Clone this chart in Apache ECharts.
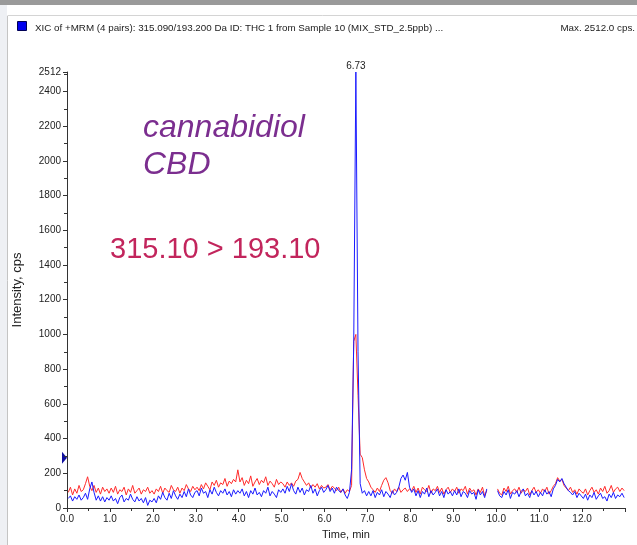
<!DOCTYPE html>
<html>
<head>
<meta charset="utf-8">
<script src="https://cdn.jsdelivr.net/npm/echarts@6/dist/echarts.min.js"></script>
<style>
html, body { margin: 0; padding: 0; background: #fff; }
#main { width: 637px; height: 545px; }
</style>
</head>
<body>
<div id="main"></div>
<script>
// sampling of the trace: first point and step, minutes
var t0 = 0.03;
var dt = 0.05;

// XIC 315.090/193.200 (blue), one value per step
var blueVals = [
	55, 70, 40, 65, 50, 75, 45, 60, 85, 50, 110, 150, 90, 45, 70, 40, 65, 35, 60, 45,
	70, 40, 55, 25, 60, 75, 35, 55, 45, 80, 50, 35, 65, 40, 55, 30, 60, 15, 45, 35,
	55, 30, 70, 50, 90, 60, 45, 85, 55, 100, 70, 50, 80, 60, 95, 65, 110, 75, 60, 90,
	100, 70, 115, 85, 95, 60, 105, 80, 120, 90, 70, 100, 85, 110, 75, 95, 65, 105, 80, 100,
	85, 110, 70, 95, 60, 100, 80, 115, 75, 90, 65, 100, 85, 120, 70, 95, 80, 60, 105, 90,
	110, 85, 125, 95, 140, 100, 80, 120, 90, 115, 75, 105, 95, 130, 85, 110, 70, 100, 120, 90,
	105, 130, 95, 115, 85, 120, 100, 90, 110, 75, 55, 90, 220, 950, 2512, 900, 140, 85, 100, 70,
	95, 70, 100, 60, 90, 75, 105, 65, 95, 80, 60, 100, 75, 90, 120, 170, 190, 160, 205, 120,
	90, 110, 70, 100, 60, 95, 80, 115, 65, 100, 75, 90, 110, 70, 95, 60, 105, 80, 95, 70,
	100, 75, 110, 65, 95, 85, 60, 100, 80, 90, 50, 105, 75, 95, 60, 110, null, null, null, null,
	100, 70, 60, 95, 75, 105, 55, 90, 80, 100, 65, 95, 110, 70, 85, 60, 100, 75, 95, 65,
	90, 70, 105, 80, 95, 65, 110, 130, 165, 150, 170, 140, 120, 100, 90, 75, 95, 60, 85, 70,
	55, 80, 45, 75, 60, 90, 50, 70, 85, 55, 65, 40, 80, 60, 90, 55, 75, 65, 85, 60
];

// second transition (red)
var redVals = [
	90, 120, 75, 110, 85, 130, 95, 105, 140, 180, 125, 100, 130, 90, 115, 80, 120, 95, 110, 85,
	115, 90, 125, 80, 105, 95, 120, 75, 110, 90, 130, 85, 100, 115, 80, 105, 95, 120, 85, 100,
	80, 110, 95, 125, 85, 115, 100, 90, 130, 105, 95, 120, 85, 115, 100, 135, 110, 95, 125, 105,
	120, 100, 135, 110, 145, 125, 105, 150, 130, 160, 120, 145, 135, 170, 125, 155, 140, 165, 150, 220,
	150, 175, 130, 160, 140, 185, 125, 150, 170, 135, 160, 145, 180, 130, 155, 140, 120, 165, 135, 150,
	140, 120, 150, 130, 145, 125, 155, 165, 205, 170, 150, 130, 145, 115, 135, 120, 140, 110, 130, 115,
	120, 135, 105, 125, 115, 100, 120, 90, 110, 85, 105, 95, 130, 960, 1000, 650, 310, 290, 220, 170,
	150, 120, 105, 90, 115, 95, 130, 160, 175, 145, 100, 85, 110, 95, 120, 90, 105, 115, 95, 110,
	100, 125, 90, 115, 80, 120, 105, 95, 130, 85, 110, 100, 125, 90, 115, 80, 105, 120, 90, 110,
	95, 120, 85, 110, 100, 125, 80, 115, 95, 105, 75, 110, 90, 120, 70, 100, null, null, null, null,
	110, 85, 75, 115, 95, 125, 80, 100, 110, 90, 120, 85, 105, 95, 115, 75, 100, 120, 90, 105,
	85, 110, 95, 120, 80, 100, 125, 140, 175, 155, 165, 130, 115, 100, 120, 90, 105, 80, 110, 95,
	85, 110, 75, 100, 120, 90, 105, 80, 115, 95, 125, 85, 100, 130, 90, 110, 120, 95, 115, 100
];

var yMax = 2512;
var titleText = 'XIC of +MRM (4 pairs): 315.090/193.200 Da ID: THC 1 from Sample 10 (MIX_STD_2.5ppb) ...';
var maxText = 'Max. 2512.0 cps.';

function toPairs(vals) {
	var out = [];
	for (var i = 0; i < vals.length; i++) {
		var t = Math.round((t0 + i * dt) * 100) / 100;
		out.push([t, vals[i]]);
	}
	return out;
}

var blueData = toPairs(blueVals);
var redData = toPairs(redVals);

// apex of the blue trace for the retention time label
var apex = 0;
for (var i = 1; i < blueVals.length; i++) {
	if (blueVals[i] != null && blueVals[i] > blueVals[apex]) apex = i;
}

var myChart = echarts.init(document.getElementById('main'));

var option = {
	animation: false,
	grid: { left: 67, right: 12, top: 72, bottom: 35 },
	xAxis: {
		type: 'value',
		min: 0,
		max: 13,
		interval: 1,
		name: 'Time, min',
		nameLocation: 'middle',
		nameGap: 21,
		nameTextStyle: { fontFamily: 'Liberation Sans', fontSize: 11, color: '#222' },
		axisLine: { lineStyle: { color: '#333', width: 1 } },
		axisTick: { length: 4, lineStyle: { color: '#333' } },
		minorTick: { show: true, splitNumber: 2, length: 3, lineStyle: { color: '#333' } },
		splitLine: { show: false },
		axisLabel: {
			fontFamily: 'Liberation Sans', fontSize: 10, color: '#222', margin: 6,
			formatter: function (v) { return v >= 13 ? '' : v.toFixed(1); }
		}
	},
	yAxis: {
		type: 'value',
		min: 0,
		max: yMax,
		interval: 200,
		name: 'Intensity, cps',
		nameLocation: 'middle',
		nameGap: 43,
		nameTextStyle: { fontFamily: 'Liberation Sans', fontSize: 13, color: '#222' },
		axisLine: { show: true, lineStyle: { color: '#333', width: 1 } },
		axisTick: { show: true, length: 4, lineStyle: { color: '#333' } },
		minorTick: { show: true, splitNumber: 2, length: 3, lineStyle: { color: '#333' } },
		splitLine: { show: false },
		axisLabel: {
			fontFamily: 'Liberation Sans', fontSize: 10, color: '#222', margin: 6,
			formatter: function (v) { return String(Math.round(v)); }
		}
	},
	series: [{
		name: 'red',
		type: 'line',
		data: redData,
		showSymbol: false,
		connectNulls: false,
		lineStyle: { color: '#ff2a2a', width: 1 },
		z: 2
	}, {
		name: 'blue',
		type: 'line',
		data: blueData,
		showSymbol: false,
		connectNulls: false,
		lineStyle: { color: '#1a1aff', width: 1 },
		z: 3,
		markPoint: {
			symbol: 'circle',
			symbolSize: 0,
			data: [{ coord: blueData[apex], value: blueData[apex][0].toFixed(2) }],
			label: {
				show: true,
				position: 'top',
				distance: 1,
				formatter: '{c}',
				fontFamily: 'Liberation Sans',
				fontSize: 10,
				color: '#222'
			}
		}
	}],
	graphic: [
		{ type: 'rect', shape: { x: 0, y: 0, width: 637, height: 5 }, style: { fill: '#9a9a9a' } },
		{ type: 'rect', shape: { x: 0, y: 5, width: 7, height: 540 }, style: { fill: '#eef0f4' } },
		{ type: 'line', shape: { x1: 7.5, y1: 16, x2: 7.5, y2: 545 }, style: { stroke: '#c4c4c4', lineWidth: 1 } },
		{ type: 'line', shape: { x1: 7.5, y1: 15.5, x2: 637, y2: 15.5 }, style: { stroke: '#d4d4d4', lineWidth: 1 } },
		{ type: 'rect', shape: { x: 17.5, y: 21.5, width: 9, height: 9 }, style: { fill: '#0000ee', stroke: '#000055', lineWidth: 1 } },
		{ type: 'text', left: 35, top: 23, style: { text: titleText, font: '9.8px "Liberation Sans"', fill: '#222' } },
		{ type: 'text', right: 2, top: 23, style: { text: maxText, font: '9.8px "Liberation Sans"', fill: '#222' } },
		{ type: 'text', left: 143, top: 112, style: { text: 'cannabidiol', font: 'italic 32px "Liberation Sans"', fill: '#7b2e8f' } },
		{ type: 'text', left: 143, top: 149, style: { text: 'CBD', font: 'italic 32px "Liberation Sans"', fill: '#7b2e8f' } },
		{ type: 'text', left: 110, top: 235, style: { text: '315.10 > 193.10', font: '29px "Liberation Sans"', fill: '#c2255c' } }
	]
};

myChart.setOption(option);

// small marker on the intensity axis
var mk = myChart.convertToPixel({ gridIndex: 0 }, [0, 290]);
myChart.setOption({
	graphic: option.graphic.concat([{
		type: 'polygon',
		shape: { points: [[mk[0] - 5, mk[1] - 6], [mk[0], mk[1]], [mk[0] - 5, mk[1] + 6]] },
		style: { fill: '#1010a0' }
	}])
});
</script>
</body>
</html>
